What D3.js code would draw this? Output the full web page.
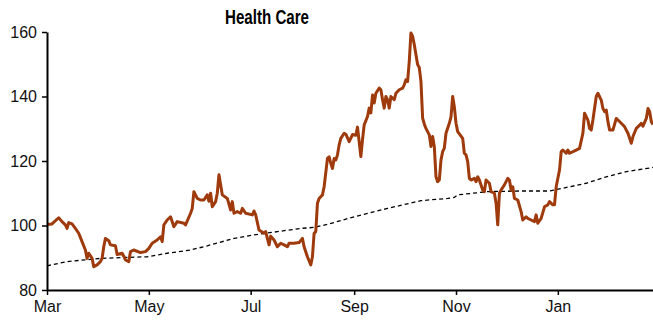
<!DOCTYPE html>
<html>
<head>
<meta charset="utf-8">
<script src="https://cdn.jsdelivr.net/npm/d3@7"></script>
<style>
  html, body { margin: 0; padding: 0; background: #fff; }
  svg { display: block; }
  .title { font-family: "Liberation Sans Narrow", "Liberation Sans", sans-serif; font-weight: bold; font-size: 21px; fill: #000; }
  .axis text { font-family: "Liberation Sans Narrow", "Liberation Sans", sans-serif; font-size: 16px; fill: #111; }
</style>
</head>
<body>
<svg id="chart" width="653" height="323"></svg>
<script>
// Health Care index (daily close) and its long-run moving average
const priceDates = [
  "2020-03-01","2020-03-04","2020-03-08","2020-03-10","2020-03-12","2020-03-13","2020-03-14","2020-03-16","2020-03-18","2020-03-20",
  "2020-03-22","2020-03-24","2020-03-25","2020-03-26","2020-03-28","2020-03-29","2020-03-31","2020-04-02","2020-04-03","2020-04-04",
  "2020-04-05","2020-04-07","2020-04-08","2020-04-11","2020-04-12","2020-04-15","2020-04-16","2020-04-17","2020-04-19","2020-04-20",
  "2020-04-22","2020-04-26","2020-04-29","2020-05-01","2020-05-03","2020-05-06","2020-05-08","2020-05-09","2020-05-10","2020-05-12",
  "2020-05-14","2020-05-16","2020-05-18","2020-05-22","2020-05-23","2020-05-26","2020-05-27","2020-05-28","2020-05-30","2020-06-01",
  "2020-06-03","2020-06-05","2020-06-06","2020-06-07","2020-06-08","2020-06-10","2020-06-11","2020-06-12","2020-06-14","2020-06-17",
  "2020-06-19","2020-06-20","2020-06-21","2020-06-23","2020-06-25","2020-06-26","2020-06-28","2020-07-02","2020-07-03","2020-07-04",
  "2020-07-06","2020-07-09","2020-07-10","2020-07-11","2020-07-12","2020-07-13","2020-07-15","2020-07-17","2020-07-19","2020-07-21",
  "2020-07-23","2020-07-24","2020-07-27","2020-07-30","2020-08-01","2020-08-02","2020-08-04","2020-08-06","2020-08-07","2020-08-08",
  "2020-08-09","2020-08-10","2020-08-11","2020-08-13","2020-08-14","2020-08-16","2020-08-17","2020-08-18","2020-08-19","2020-08-20",
  "2020-08-21","2020-08-22","2020-08-23","2020-08-24","2020-08-26","2020-08-27","2020-08-29","2020-08-31","2020-09-02","2020-09-03",
  "2020-09-05","2020-09-06","2020-09-07","2020-09-09","2020-09-10","2020-09-11","2020-09-12","2020-09-13","2020-09-14","2020-09-16",
  "2020-09-17","2020-09-18","2020-09-19","2020-09-20","2020-09-21","2020-09-22","2020-09-23","2020-09-25","2020-09-26","2020-09-28",
  "2020-09-30","2020-10-01","2020-10-02","2020-10-03","2020-10-04","2020-10-05","2020-10-06","2020-10-07","2020-10-08","2020-10-09",
  "2020-10-10","2020-10-11","2020-10-12","2020-10-13","2020-10-14","2020-10-16","2020-10-17","2020-10-18","2020-10-19","2020-10-20",
  "2020-10-21","2020-10-22","2020-10-23","2020-10-24","2020-10-25","2020-10-26","2020-10-28","2020-10-29","2020-10-30","2020-10-31",
  "2020-11-01","2020-11-02","2020-11-05","2020-11-06","2020-11-07","2020-11-08","2020-11-09","2020-11-10","2020-11-12","2020-11-13",
  "2020-11-14","2020-11-15","2020-11-17","2020-11-18","2020-11-19","2020-11-21","2020-11-22","2020-11-24","2020-11-25","2020-11-26",
  "2020-11-27","2020-11-28","2020-11-30","2020-12-02","2020-12-03","2020-12-04","2020-12-05","2020-12-06","2020-12-08","2020-12-10",
  "2020-12-11","2020-12-13","2020-12-14","2020-12-16","2020-12-18","2020-12-19","2020-12-20","2020-12-22","2020-12-24","2020-12-26",
  "2020-12-27","2020-12-29","2020-12-30","2020-12-31","2021-01-02","2021-01-03","2021-01-04","2021-01-06","2021-01-07","2021-01-08",
  "2021-01-12","2021-01-14","2021-01-16","2021-01-17","2021-01-19","2021-01-20","2021-01-21","2021-01-22","2021-01-24","2021-01-25",
  "2021-01-27","2021-01-28","2021-01-29","2021-01-30","2021-01-31","2021-02-01","2021-02-03","2021-02-05","2021-02-06","2021-02-08",
  "2021-02-10","2021-02-12","2021-02-14","2021-02-15","2021-02-17","2021-02-19","2021-02-20","2021-02-21","2021-02-23","2021-02-24",
  "2021-02-25","2021-02-26","2021-02-27"
];
const priceValues = [
  100.3,100.5,102.4,101.2,100.2,99.1,100.9,100.5,99.1,97.6,
  95.0,92.4,89.8,91.4,89.8,87.2,87.8,88.8,89.8,93.4,
  96.0,95.3,94.0,93.7,91.0,91.4,90.5,89.3,88.8,91.9,
  92.4,91.6,91.9,92.9,94.5,95.5,96.5,95.0,100.2,101.7,
  102.7,99.6,101.2,100.7,100.2,103.8,105.3,110.5,108.4,107.9,
  107.9,109.5,107.5,110.0,105.8,107.4,110.0,115.7,109.5,108.4,
  104.8,107.4,103.8,104.3,103.8,105.3,103.8,103.3,104.5,103.3,
  98.6,97.6,98.1,96.0,94.0,96.7,95.5,93.4,94.5,94.0,
  93.4,94.5,94.5,94.7,96.0,93.4,90.3,87.8,90.3,97.6,
  98.1,106.9,108.4,109.5,112.0,120.8,121.3,119.3,117.7,120.8,
  120.3,121.9,125.0,127.0,128.6,128.3,126.0,128.2,128.0,130.5,
  121.4,126.6,131.2,133.8,136.4,134.9,140.5,138.0,141.0,142.6,
  142.1,139.0,136.4,140.0,139.0,136.4,140.0,139.0,141.0,142.1,
  142.6,143.6,145.2,144.7,150.8,159.7,158.7,156.1,153.0,149.9,
  149.0,144.7,133.3,131.5,130.1,128.1,124.5,127.6,124.5,115.1,
  113.6,114.1,120.3,122.9,124.0,128.6,131.7,133.7,140.0,136.8,
  131.7,129.1,127.0,122.4,121.9,119.8,114.6,114.1,114.6,113.6,
  115.1,114.1,111.0,110.5,114.1,113.1,110.5,110.0,106.9,100.2,
  110.0,111.0,112.6,114.6,114.1,111.0,112.0,108.4,107.9,104.3,
  101.7,102.7,102.2,101.7,101.2,103.3,100.7,102.2,105.8,106.4,
  107.4,106.4,106.4,112.0,117.2,122.9,123.4,122.4,123.4,122.4,
  123.4,123.9,128.6,134.8,132.7,130.1,129.6,132.7,140.0,141.0,
  138.9,136.3,135.3,135.8,132.2,129.6,129.6,133.2,132.7,131.7,
  130.6,128.6,125.5,127.6,130.1,131.1,131.7,130.8,133.2,136.3,
  135.3,132.2,131.3
];

const avgDates = [
  "2020-03-01","2020-03-13","2020-04-02","2020-04-18","2020-04-30","2020-05-12","2020-05-26","2020-06-05","2020-06-21","2020-07-03",
  "2020-07-17","2020-07-31","2020-08-08","2020-08-17","2020-09-01","2020-09-21","2020-10-11","2020-10-27","2020-10-31","2020-11-02",
  "2020-11-20","2020-12-09","2020-12-27","2021-01-08","2021-01-18","2021-01-30","2021-02-11","2021-02-27"
];
const avgValues = [
  87.5,88.8,89.8,90.1,90.3,91.4,92.4,93.7,96.0,97.1,
  98.1,99.1,99.4,100.5,102.7,105.3,107.7,108.4,108.7,109.5,
  110.5,110.7,110.7,112.0,113.1,115.1,116.7,118.0
];

const yTicks = [80, 100, 120, 140, 160];
const xTickDates = ["2020-03-01","2020-05-01","2020-07-01","2020-09-01","2020-11-01","2021-01-01"];
const xDomain = ["2020-03-01", "2021-02-27"];

const parse = d3.utcParse("%Y-%m-%d");
const price = priceDates.map((d, i) => ({ date: parse(d), value: priceValues[i] }));
const avg = avgDates.map((d, i) => ({ date: parse(d), value: avgValues[i] }));

const svg = d3.select("#chart");
const plotLeft = 47, plotRight = 653, plotTop = 32, plotBottom = 290;

const x = d3.scaleUtc().domain(xDomain.map(parse)).range([plotLeft, plotRight]);
const y = d3.scaleLinear().domain([80, 160]).range([plotBottom, plotTop]);

// Condensed bold title
svg.append("text")
  .attr("class", "title")
  .attr("x", 225)
  .attr("y", 24)
  .attr("textLength", 84)
  .attr("lengthAdjust", "spacingAndGlyphs")
  .text("Health Care");

const line = d3.line().x(d => x(d.date)).y(d => y(d.value));

svg.append("path")
  .datum(avg)
  .attr("fill", "none")
  .attr("stroke", "#000")
  .attr("stroke-width", 1.3)
  .attr("stroke-dasharray", "4,3")
  .attr("d", line);

svg.append("path")
  .datum(price)
  .attr("fill", "none")
  .attr("stroke", "#9e3a0b")
  .attr("stroke-width", 3)
  .attr("stroke-linejoin", "round")
  .attr("d", line);

svg.append("g")
  .attr("class", "axis")
  .attr("transform", `translate(${plotLeft},0)`)
  .call(d3.axisLeft(y).tickValues(yTicks).tickSize(5).tickSizeOuter(0).tickPadding(5));

svg.append("g")
  .attr("class", "axis")
  .attr("transform", `translate(0,${plotBottom})`)
  .call(d3.axisBottom(x).tickValues(xTickDates.map(parse)).tickFormat(d3.utcFormat("%b")).tickSize(5).tickSizeOuter(0).tickPadding(6));

svg.selectAll(".axis .domain").attr("stroke", "#000").attr("stroke-width", 2);
svg.selectAll(".axis .tick line").attr("stroke", "#000").attr("stroke-width", 1.5);
</script>
</body>
</html>
